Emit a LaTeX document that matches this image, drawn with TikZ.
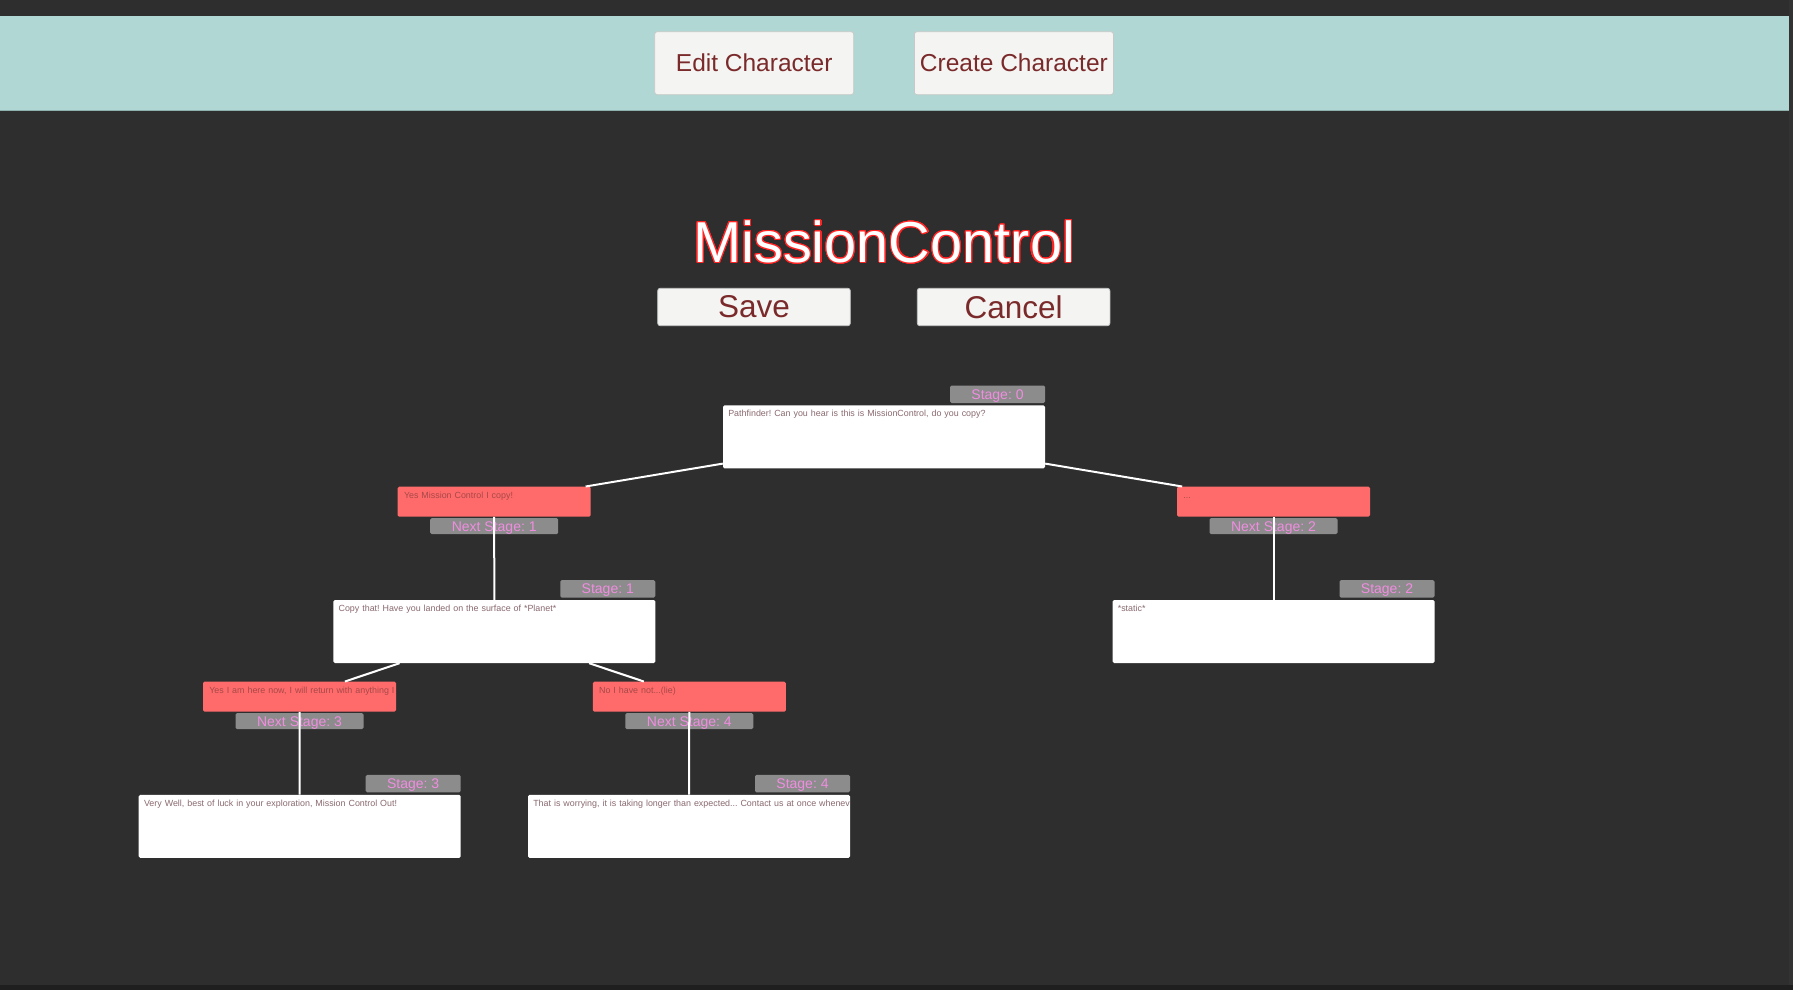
\documentclass[tikz,border=0pt]{standalone}
\usepackage{fontspec}
\setmainfont{Liberation Sans}
\usepackage{contour}
\usetikzlibrary{positioning}

\definecolor{bgdark}{HTML}{2E2E2E}
\definecolor{barteal}{HTML}{B0D7D3}
\definecolor{barline}{HTML}{8FB1AE}
\definecolor{btnfill}{HTML}{F4F4F2}
\definecolor{btnline}{HTML}{C6C9C8}
\definecolor{btntext}{HTML}{7A2A2A}
\definecolor{titlered}{HTML}{FF2424}
\definecolor{optred}{HTML}{FF6B6B}
\definecolor{opttext}{HTML}{A84848}
\definecolor{taggray}{HTML}{8C8C8C}
\definecolor{tagpink}{HTML}{F08CE0}
\definecolor{msgtext}{HTML}{8A6A70}

\newcommand{\btnfont}{\fontsize{24.5}{28}\selectfont}
\newcommand{\savefont}{\fontsize{31.5}{36}\selectfont}
\newcommand{\titlefont}{\fontsize{57.7}{64}\selectfont}
\newcommand{\tagfont}{\fontsize{14}{15}\selectfont}
\newcommand{\msgfont}{\fontsize{8.9}{10}\selectfont}
\contourlength{1.1pt}
\contournumber{24}
\frenchspacing

\begin{document}
\begin{tikzpicture}[
    x=1pt, y=-1pt,
    button/.style={rectangle, draw=btnline, line width=0.8, fill=btnfill, rounded corners=2.5, text=btntext, inner sep=0},
    stagebox/.style={rectangle, fill=white, rounded corners=1.5, inner xsep=5.3, inner ysep=0, text width=311.4, align=left, text height=11.5, text depth=51.5, font=\msgfont, text=msgtext},
    answer/.style={rectangle, fill=optred, rounded corners=1.5, inner xsep=6.3, inner ysep=0, text width=180.4, align=left, text height=11.6, text depth=18.4, font=\msgfont, text=opttext},
    stagetag/.style={rectangle, fill=taggray, rounded corners=1.5, minimum width=95, minimum height=17.5, inner sep=0, text height=10, text depth=0, font=\tagfont, text=tagpink},
    nexttag/.style={stagetag, minimum width=128, minimum height=16},
    link/.style={draw=white, line width=2}
]
\useasboundingbox (0,0) rectangle (1793,990);

% Background
\fill[bgdark] (0,0) rectangle (1793,990);
\fill[black!80] (1789,0) rectangle (1793,985);
\fill[black!88] (0,985) rectangle (1793,990);
\fill[barteal] (0,15.7) rectangle (1789,111);
\draw[barline, line width=1] (0,110.5) -- (1789,110.5);

% Buttons and title
\node[button, minimum width=199, minimum height=63, font=\btnfont] (editBtn) at (754.2,63.2) {Edit Character};
\node[button, minimum width=199, minimum height=63, font=\btnfont] (createBtn) at (1013.9,63.2) {Create Character};
\node[font=\titlefont, text=white, anchor=base, inner sep=0] (title) at (884.2,262.3) {\contour{titlered}{MissionControl}};
\node[button, minimum width=192.6, minimum height=37.4, font=\savefont] (saveBtn) at (754,307) {Save};
\node[button, minimum width=192.6, minimum height=37.4, font=\savefont] (cancelBtn) at (1013.6,307) {Cancel};

% Nodes
\node[stagebox] (st0) at (884,436.9) {Pathfinder! Can you hear is this is MissionControl, do you copy?};
\node[stagetag, above left=2pt and 0pt of st0.north east] (tag0) {Stage: 0};

\node[answer] (ans1) at (494.2,501.7) {Yes Mission Control I copy!};
\node[nexttag, below=1pt of ans1] (nxt1) {Next Stage: 1};
\node[answer] (ans2) at (1273.5,501.7) {...};
\node[nexttag, below=1pt of ans2] (nxt2) {Next Stage: 2};

\node[stagebox] (st1) at (494.3,631.5) {Copy that! Have you landed on the surface of *Planet*};
\node[stagetag, above left=2pt and 0pt of st1.north east] (tag1) {Stage: 1};
\node[stagebox] (st2) at (1273.5,631.5) {*static*};
\node[stagetag, above left=2pt and 0pt of st2.north east] (tag2) {Stage: 2};

\node[answer] (ans3) at (299.5,696.7) {\mbox{Yes I am here now, I will return with anything I}};
\node[nexttag, below=1pt of ans3] (nxt3) {Next Stage: 3};
\node[answer] (ans4) at (689.3,696.7) {No I have not...(lie)};
\node[nexttag, below=1pt of ans4] (nxt4) {Next Stage: 4};

\node[stagebox] (st3) at (299.7,826.3) {Very Well, best of luck in your exploration, Mission Control Out!};
\node[stagetag, above left=2pt and 0pt of st3.north east] (tag3) {Stage: 3};
\node[stagebox] (st4) at (689,826.3) {\mbox{That is worrying, it is taking longer than expected... Contact us at once whenev}};
\node[stagetag, above left=2pt and 0pt of st4.north east] (tag4) {Stage: 4};

% Paths
\draw[link] (st0) -- (ans1);
\draw[link] (st0) -- (ans2);
\draw[link] (ans1) -- (st1);
\draw[link] (ans2) -- (st2);
\draw[link] (st1) -- (ans3);
\draw[link] (st1) -- (ans4);
\draw[link] (ans3) -- (st3);
\draw[link] (ans4) -- (st4);

\end{tikzpicture}
\end{document}
